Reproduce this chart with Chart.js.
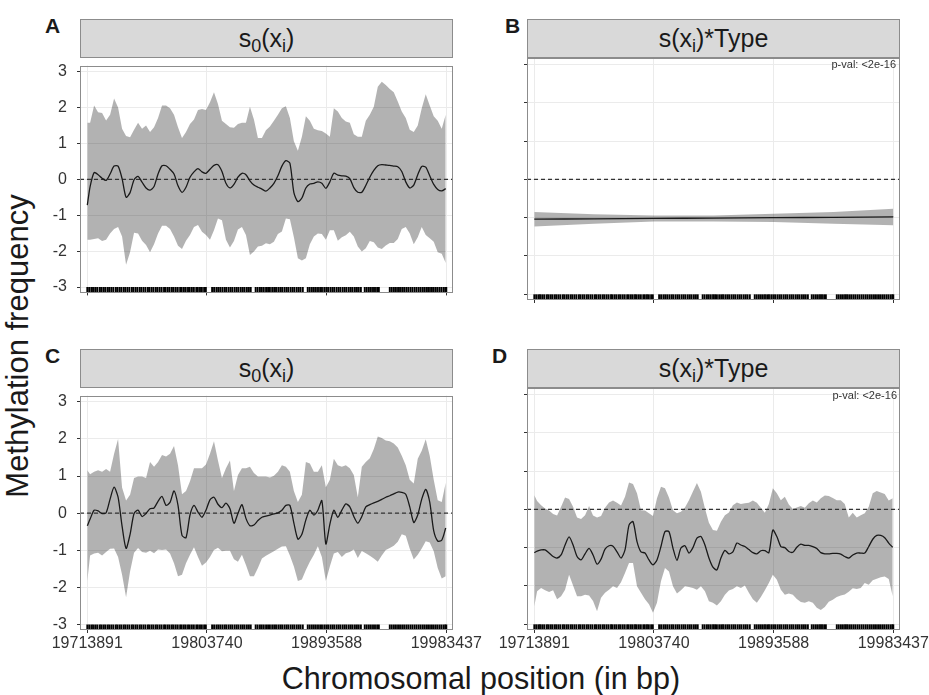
<!DOCTYPE html>
<html>
<head>
<meta charset="utf-8">
<title>Methylation frequency</title>
<script src="https://cdn.jsdelivr.net/npm/chart.js@4.4.1/dist/chart.umd.min.js"></script>
<style>
  html, body { margin: 0; padding: 0; background: #fff; overflow: hidden; }
  #fig { position: relative; width: 929px; height: 695px; font-family: "Liberation Sans", Arial, Helvetica, sans-serif; color: #1a1a1a; }
  #fig canvas { position: absolute; }
  .strip { position: absolute; width: 373px; height: 39px; box-sizing: border-box; background: #d9d9d9;
           border: 1px solid #8c8c8c; text-align: center; font-size: 25px; line-height: 37px; z-index: 2; }
  .strip .sb { font-size: 0.72em; position: relative; top: 0.3em; }
  .tag { position: absolute; font-weight: bold; font-size: 21px; line-height: 21px; z-index: 2; }
  .pval { position: absolute; width: 120px; font-size: 11px; line-height: 11px; color: #333; text-align: right; z-index: 2; }
  .title { position: absolute; line-height: 32px; text-align: center; white-space: nowrap; }
</style>
</head>
<body>
<div id="fig">
  <div class="tag" style="left:45px; top:15px;">A</div>
  <div class="tag" style="left:505px; top:15px;">B</div>
  <div class="tag" style="left:45px; top:345px;">C</div>
  <div class="tag" style="left:492px; top:345px;">D</div>

  <div class="strip" style="left:80px; top:19px;">s<span class="sb">0</span>(x<span class="sb">i</span>)</div>
  <div class="strip" style="left:527px; top:19px;">s(x<span class="sb">i</span>)*Type</div>
  <div class="strip" style="left:80px; top:349px;">s<span class="sb">0</span>(x<span class="sb">i</span>)</div>
  <div class="strip" style="left:527px; top:349px;">s(x<span class="sb">i</span>)*Type</div>

  <div class="pval" style="left:776px; top:59px;">p-val: &lt;2e-16</div>
  <div class="pval" style="left:777px; top:390px;">p-val: &lt;2e-16</div>

  <div class="title" style="left:-182px; top:330px; width:400px; font-size:31px; transform: rotate(-90deg);">Methylation frequency</div>
  <div class="title" style="left:181px; top:662px; width:600px; font-size:30.5px;">Chromosomal position (in bp)</div>

  <canvas id="panelA"></canvas>
  <canvas id="panelB"></canvas>
  <canvas id="panelC"></canvas>
  <canvas id="panelD"></canvas>
</div>

<script>
// Axes
const X_TICKS = [19713891, 19803740, 19893588, 19983437];
const Y_TICKS = [-3, -2, -1, 0, 1, 2, 3];
const X_MIN = 19708410, X_MAX = 19988467;
const Y_MIN = -3.15, Y_MAX = 3.17;
const RUG_Y = -3.08;

// Positions where the smooths are evaluated (bp)
const positions = [19713891,
  19716000, 19719000, 19722000, 19725000, 19728000, 19731000, 19734000, 19737000, 19740000, 19743000,
  19746000, 19749000, 19752000, 19755000, 19758000, 19761000, 19764000, 19767000, 19770000, 19773000,
  19776000, 19779000, 19782000, 19785000, 19788000, 19791000, 19794000, 19797000, 19800000, 19803000,
  19806000, 19809000, 19812000, 19815000, 19818000, 19821000, 19824000, 19827000, 19830000, 19833000,
  19836000, 19839000, 19842000, 19845000, 19848000, 19851000, 19854000, 19857000, 19860000, 19863000,
  19866000, 19869000, 19872000, 19875000, 19878000, 19881000, 19884000, 19887000, 19890000, 19893000,
  19896000, 19899000, 19902000, 19905000, 19908000, 19911000, 19914000, 19917000, 19920000, 19923000,
  19926000, 19929000, 19932000, 19935000, 19938000, 19941000, 19944000, 19947000, 19950000, 19953000,
  19956000, 19959000, 19962000, 19965000, 19968000, 19971000, 19974000, 19977000, 19980000, 19983000];

// CpG sites (rug)
const rugSites = [19713891, 19715300, 19716900, 19718200, 19719800, 19721300, 19723100, 19724300, 19725900, 19727300,
  19729000, 19730300, 19731900, 19733400, 19735200, 19736400, 19738000, 19739400, 19741100, 19742400,
  19744000, 19745500, 19747300, 19748500, 19750100, 19751500, 19753200, 19754500, 19756100, 19757600,
  19759400, 19760600, 19762200, 19763600, 19765300, 19766600, 19768200, 19769700, 19771500, 19772700,
  19774300, 19775700, 19777400, 19778700, 19780300, 19781800, 19783600, 19784800, 19786400, 19787800,
  19789500, 19790800, 19792400, 19793900, 19795700, 19796900, 19798500, 19799900, 19801600, 19802900,
  19807600, 19809100, 19810800, 19812200, 19813700, 19815300, 19816900, 19818200, 19819900, 19821400,
  19822800, 19824500, 19826000, 19827400, 19829100, 19830600, 19832000, 19833700, 19835200, 19836600,
  19840300, 19841800, 19843500, 19844900, 19846400, 19848100, 19849600, 19851000, 19852700, 19854200,
  19855600, 19857300, 19858800, 19860200, 19861900, 19863400, 19864800, 19866500, 19868000, 19869400,
  19871100, 19872600, 19874000, 19875700, 19879400, 19880900, 19882500, 19884000, 19885500, 19887100,
  19888700, 19890100, 19891800, 19893300, 19894700, 19896400, 19897900, 19899300, 19901000, 19902500,
  19903900, 19905600, 19907100, 19908500, 19910200, 19911700, 19913100, 19914800, 19916300, 19917700,
  19919300, 19922200, 19923700, 19925300, 19926800, 19928400, 19929900, 19931500, 19932800, 19941000,
  19942500, 19944100, 19945600, 19947200, 19948700, 19950300, 19951800, 19953400, 19954900, 19956500,
  19958000, 19959600, 19961100, 19962700, 19964200, 19965800, 19967300, 19968900, 19970400, 19972000,
  19973500, 19975100, 19976600, 19978200, 19979700, 19981300, 19982600, 19983437];

// Panel A: s0(xi)
const fitA = [-0.72,
  -0.20, 0.19, 0.13, 0.03, -0.03, 0.15, 0.37, 0.37, 0.02, -0.50,
  -0.37, -0.01, 0.08, -0.08, -0.24, -0.30, -0.20, 0.15, 0.38, 0.38,
  0.28, 0.15, -0.18, -0.36, -0.22, 0.06, 0.21, 0.30, 0.21, 0.17,
  0.28, 0.39, 0.41, 0.22, -0.11, -0.24, -0.14, 0.06, 0.17, 0.13,
  -0.04, -0.16, -0.22, -0.27, -0.33, -0.24, -0.11, 0.10, 0.37, 0.52,
  0.45, -0.37, -0.62, -0.52, -0.24, -0.13, -0.11, -0.07, -0.11, -0.25,
  -0.07, 0.17, 0.12, 0.10, 0.09, 0.02, -0.23, -0.36, -0.36, -0.17,
  0.06, 0.25, 0.38, 0.41, 0.40, 0.39, 0.37, 0.35, 0.22, -0.07,
  -0.24, -0.16, 0.13, 0.36, 0.34, 0.10, -0.14, -0.28, -0.32, -0.26];
const upperA = [1.58,
  1.58, 2.06, 1.87, 1.85, 1.64, 1.80, 2.25, 2.00, 1.41, 1.21,
  1.17, 1.38, 1.58, 1.41, 1.50, 1.32, 1.45, 1.71, 2.06, 2.06,
  1.98, 1.80, 1.45, 1.15, 1.32, 1.54, 1.67, 1.93, 1.96, 1.93,
  2.15, 2.43, 2.10, 1.63, 1.54, 1.45, 1.44, 1.54, 1.58, 1.58,
  2.02, 1.67, 1.15, 1.15, 1.37, 1.47, 1.63, 1.80, 1.98, 2.04,
  1.71, 1.06, 0.80, 1.19, 1.76, 1.63, 1.41, 1.37, 1.35, 1.28,
  1.19, 1.98, 1.89, 1.71, 1.61, 1.58, 1.26, 1.19, 1.19, 1.63,
  1.80, 2.02, 2.58, 2.72, 2.63, 2.52, 2.43, 2.17, 1.89, 1.71,
  1.38, 1.32, 1.50, 1.98, 2.37, 2.06, 1.76, 1.63, 1.41, 1.80];
const lowerA = [-1.68,
  -1.68, -1.66, -1.64, -1.72, -1.68, -1.51, -1.38, -1.33, -1.59, -2.38,
  -2.03, -1.49, -1.51, -1.71, -1.83, -2.03, -1.81, -1.51, -1.29, -1.29,
  -1.38, -1.59, -1.85, -1.94, -1.71, -1.55, -1.33, -1.27, -1.46, -1.55,
  -1.68, -1.42, -1.09, -1.14, -1.68, -1.90, -1.72, -1.40, -1.33, -1.55,
  -2.11, -2.01, -1.87, -1.85, -1.78, -1.81, -1.74, -1.52, -1.45, -1.09,
  -1.11, -1.61, -2.20, -2.26, -2.20, -1.81, -1.59, -1.51, -1.52, -1.68,
  -1.42, -1.42, -1.71, -1.61, -1.56, -1.46, -1.59, -1.87, -2.01, -1.92,
  -1.72, -1.75, -1.90, -1.94, -1.84, -1.77, -1.77, -1.66, -1.38, -1.33,
  -1.51, -1.81, -1.61, -1.33, -1.55, -1.64, -1.74, -2.03, -2.07, -2.33];

// Panel B: s(xi)*Type (nearly linear)
const positionsB = [19713891, 19758800, 19803740, 19848700, 19893588, 19938500, 19983437];
const fitB = [-1.04, -1.03, -1.02, -1.01, -1.00, -0.99, -0.98];
const upperB = [-0.85, -0.91, -0.94, -0.94, -0.90, -0.85, -0.77];
const lowerB = [-1.23, -1.16, -1.10, -1.10, -1.11, -1.16, -1.20];

// Panel C: s0(xi)
const fitC = [-0.34,
  -0.16, 0.08, 0.06, -0.01, 0.01, 0.38, 0.70, 0.43, -0.35, -0.95,
  -0.57, -0.01, 0.08, -0.09, -0.01, 0.12, 0.14, 0.32, 0.45, 0.21,
  0.29, 0.60, 0.21, -0.60, -0.66, -0.05, 0.21, 0.03, -0.11, 0.08,
  0.36, 0.43, 0.24, 0.15, 0.27, 0.12, -0.27, -0.01, 0.23, -0.14,
  -0.34, -0.32, -0.20, -0.11, -0.08, -0.05, -0.02, 0.01, 0.08, 0.21,
  0.21, -0.27, -0.70, -0.57, -0.18, 0.08, -0.05, 0.08, 0.34, -0.83,
  -0.30, 0.08, -0.11, 0.08, 0.25, 0.17, -0.09, -0.27, -0.09, 0.17,
  0.23, 0.28, 0.32, 0.37, 0.43, 0.47, 0.52, 0.57, 0.56, 0.51,
  0.17, -0.25, -0.05, 0.38, 0.64, 0.30, -0.48, -0.75, -0.73, -0.40];
const upperC = [1.16,
  1.05, 1.12, 1.16, 1.12, 1.19, 1.12, 1.60, 2.00, 0.69, 0.34,
  0.50, 0.95, 0.99, 0.99, 0.95, 1.38, 1.25, 1.38, 1.57, 1.53,
  1.60, 1.81, 1.29, 0.51, 0.60, 0.86, 1.21, 1.21, 1.21, 1.31,
  1.60, 1.94, 1.42, 0.95, 1.21, 1.42, 0.60, 1.03, 1.21, 1.21,
  1.25, 1.08, 0.99, 0.99, 0.99, 0.96, 1.01, 1.12, 1.29, 1.25,
  1.12, 0.60, 0.30, 0.50, 1.38, 1.34, 1.12, 1.12, 1.29, 0.70,
  0.90, 1.47, 1.29, 1.25, 1.29, 1.21, 1.03, 0.43, 1.25, 1.38,
  1.48, 1.73, 2.07, 2.03, 1.96, 1.94, 1.88, 1.77, 1.55, 1.29,
  0.90, 0.80, 1.47, 1.68, 1.99, 1.55, 0.90, 0.35, 0.30, 0.82];
const lowerC = [-1.83,
  -1.14, -1.09, -1.07, -1.14, -1.05, -0.96, -0.95, -1.18, -1.66, -2.27,
  -1.57, -1.07, -0.94, -1.05, -1.07, -1.01, -1.08, -0.98, -0.99, -0.98,
  -1.09, -1.35, -1.70, -1.66, -1.35, -1.12, -0.92, -1.18, -1.42, -1.33,
  -1.18, -0.99, -0.93, -1.03, -1.01, -1.01, -1.24, -1.31, -1.12, -1.40,
  -1.70, -1.70, -1.48, -1.22, -1.15, -1.09, -1.03, -0.96, -0.90, -0.89,
  -1.14, -1.44, -1.83, -1.79, -1.53, -1.31, -1.12, -0.89, -1.18, -1.83,
  -1.44, -1.09, -1.05, -1.18, -1.08, -1.05, -0.98, -1.21, -1.02, -1.08,
  -1.15, -1.22, -1.31, -1.14, -0.99, -0.94, -0.88, -0.77, -0.57, -0.61,
  -0.96, -1.25, -1.12, -0.95, -0.76, -0.79, -1.03, -1.48, -1.76, -1.70];

// Panel D: s(xi)*Type
const fitD = [-1.13,
  -1.09, -1.06, -1.06, -1.14, -1.23, -1.27, -1.19, -0.93, -0.72, -0.93,
  -1.23, -1.32, -1.16, -1.02, -1.19, -1.43, -1.30, -1.04, -0.95, -0.96,
  -1.11, -1.27, -1.06, -0.41, -0.32, -0.84, -1.11, -1.14, -1.32, -1.45,
  -1.32, -0.97, -0.58, -0.58, -1.01, -1.33, -1.01, -0.95, -1.14, -1.00,
  -0.75, -0.71, -0.93, -1.27, -1.51, -1.58, -1.27, -1.07, -1.16, -1.11,
  -0.88, -0.93, -0.97, -1.05, -1.13, -1.16, -1.08, -1.08, -1.13, -0.54,
  -0.71, -0.97, -1.00, -1.10, -1.12, -0.99, -0.91, -0.94, -0.94, -0.97,
  -1.02, -1.13, -1.16, -1.16, -1.15, -1.15, -1.17, -1.23, -1.27, -1.19,
  -1.14, -1.14, -1.14, -0.97, -0.78, -0.68, -0.68, -0.74, -0.88, -0.99];
const upperD = [0.37,
  0.22, 0.11, 0.02, -0.03, -0.12, -0.16, 0.07, 0.31, 0.27, 0.07,
  -0.21, -0.25, -0.15, 0.09, -0.16, -0.21, -0.17, 0.04, 0.18, 0.23,
  0.17, 0.10, 0.33, 0.70, 0.66, 0.42, -0.02, -0.03, -0.10, -0.17,
  0.29, 0.59, 0.55, 0.31, -0.02, -0.10, -0.06, 0.05, 0.24, 0.47,
  0.69, 0.46, 0.03, -0.35, -0.54, -0.56, -0.32, -0.15, -0.08, 0.11,
  0.18, 0.14, 0.16, 0.17, 0.23, 0.17, 0.04, -0.09, 0.14, 0.55,
  0.42, 0.24, 0.33, 0.13, 0.01, 0.05, 0.09, 0.04, 0.16, 0.23,
  0.18, 0.29, 0.36, 0.35, 0.30, 0.24, 0.24, 0.14, -0.21, -0.09,
  -0.21, -0.15, -0.10, 0.07, 0.42, 0.48, 0.44, 0.40, 0.23, 0.29];
const lowerD = [-2.53,
  -2.14, -2.05, -2.11, -2.16, -2.11, -2.35, -2.27, -2.10, -1.71, -1.99,
  -2.27, -2.27, -2.23, -2.25, -2.39, -2.66, -2.31, -2.18, -2.10, -2.01,
  -2.05, -1.90, -1.66, -1.40, -1.40, -2.01, -2.18, -2.35, -2.48, -2.70,
  -2.44, -1.88, -1.53, -1.62, -2.01, -2.20, -2.11, -2.01, -2.03, -2.05,
  -2.10, -2.01, -2.14, -2.40, -2.44, -2.51, -2.40, -2.23, -2.12, -2.08,
  -2.01, -2.05, -1.99, -2.18, -2.35, -2.44, -2.29, -2.11, -1.92, -1.71,
  -1.84, -2.10, -2.23, -2.20, -2.23, -2.34, -2.42, -2.44, -2.40, -2.44,
  -2.57, -2.63, -2.55, -2.41, -2.36, -2.29, -2.25, -2.22, -2.15, -2.06,
  -2.08, -2.05, -1.92, -1.97, -1.85, -1.81, -1.77, -1.75, -1.82, -2.27];

// Styling
const FONT = '"Liberation Sans", Arial, Helvetica, sans-serif';
const BAND = 'rgba(0, 0, 0, 0.3)';
const GRID = '#ebebeb';
const AXIS_W = 80, PAD_TOP = 12, PAD_RIGHT = 40;
const PLOT_W = 373, PLOT_H = 242;

Chart.defaults.font.family = FONT;

const pts = (xs, ys) => xs.map((x, i) => ({ x: x, y: ys[i] }));

// ggplot-like grey panel border
const panelBorder = {
    id: 'panelBorder',
    afterDraw(chart) {
        const a = chart.chartArea;
        const ctx = chart.ctx;
        ctx.save();
        ctx.strokeStyle = '#8c8c8c';
        ctx.lineWidth = 1;
        ctx.strokeRect(Math.round(a.left) + 0.5, Math.round(a.top) + 0.5,
                       Math.round(a.right - a.left) - 1, Math.round(a.bottom - a.top) - 1);
        ctx.restore();
    }
};

function drawPanel(id, left, top, xs, fit, upper, lower, showX, showY) {
    const xAxisH = showX ? 28 : 6;
    const padBottom = showX ? 2 : 6;
    const canvas = document.getElementById(id);
    canvas.width = AXIS_W + PLOT_W + PAD_RIGHT;
    canvas.height = PAD_TOP + PLOT_H + xAxisH + padBottom;
    canvas.style.left = (left - AXIS_W) + 'px';
    canvas.style.top = (top - PAD_TOP) + 'px';

    new Chart(canvas, {
        type: 'line',
        data: {
            datasets: [{
                data: pts(xs, lower),
                borderColor: 'rgba(0,0,0,0)',
                borderWidth: 1,
                pointRadius: 0,
                fill: false,
                order: 4
            }, {
                data: pts(xs, upper),
                borderColor: 'rgba(0,0,0,0)',
                borderWidth: 1,
                backgroundColor: BAND,
                pointRadius: 0,
                fill: '-1',
                order: 3
            }, {
                data: [{ x: X_MIN, y: 0 }, { x: X_MAX, y: 0 }],
                borderColor: '#333333',
                borderWidth: 1.2,
                borderDash: [4, 3],
                pointRadius: 0,
                fill: false,
                order: 2
            }, {
                data: pts(xs, fit),
                borderColor: '#1a1a1a',
                borderWidth: 1.3,
                tension: 0.25,
                pointRadius: 0,
                fill: false,
                order: 1
            }, {
                data: rugSites.map(x => ({ x: x, y: RUG_Y })),
                showLine: false,
                pointStyle: 'line',
                pointRotation: 90,
                pointRadius: 3,
                pointBorderWidth: 1.9,
                pointBorderColor: '#000000',
                fill: false,
                order: 0
            }]
        },
        options: {
            responsive: false,
            animation: false,
            devicePixelRatio: 1,
            layout: { autoPadding: false, padding: { top: PAD_TOP, right: PAD_RIGHT, bottom: padBottom, left: 0 } },
            plugins: { legend: { display: false }, tooltip: { enabled: false } },
            scales: {
                x: {
                    type: 'linear',
                    min: X_MIN,
                    max: X_MAX,
                    afterBuildTicks: s => { s.ticks = X_TICKS.map(v => ({ value: v })); },
                    afterFit: s => { s.height = xAxisH; },
                    border: { display: false },
                    grid: { color: GRID, tickColor: '#333333', tickLength: 3, lineWidth: 1 },
                    ticks: {
                        display: showX,
                        autoSkip: false,
                        maxRotation: 0,
                        padding: 1,
                        color: '#333333',
                        font: { size: 16 },
                        callback: v => String(v)
                    }
                },
                y: {
                    type: 'linear',
                    min: Y_MIN,
                    max: Y_MAX,
                    afterBuildTicks: s => { s.ticks = Y_TICKS.map(v => ({ value: v })); },
                    afterFit: s => { s.width = AXIS_W; },
                    border: { display: false },
                    grid: { color: GRID, tickColor: '#333333', tickLength: 3, lineWidth: 1 },
                    ticks: {
                        display: showY,
                        padding: 10,
                        color: '#333333',
                        font: { size: 16 },
                        callback: v => String(v)
                    }
                }
            }
        },
        plugins: [panelBorder]
    });
}

drawPanel('panelA', 80, 58, positions, fitA, upperA, lowerA, false, true);
drawPanel('panelB', 527, 58, positionsB, fitB, upperB, lowerB, false, false);
drawPanel('panelC', 80, 388, positions, fitC, upperC, lowerC, true, true);
drawPanel('panelD', 527, 388, positions, fitD, upperD, lowerD, true, false);
</script>
</body>
</html>
